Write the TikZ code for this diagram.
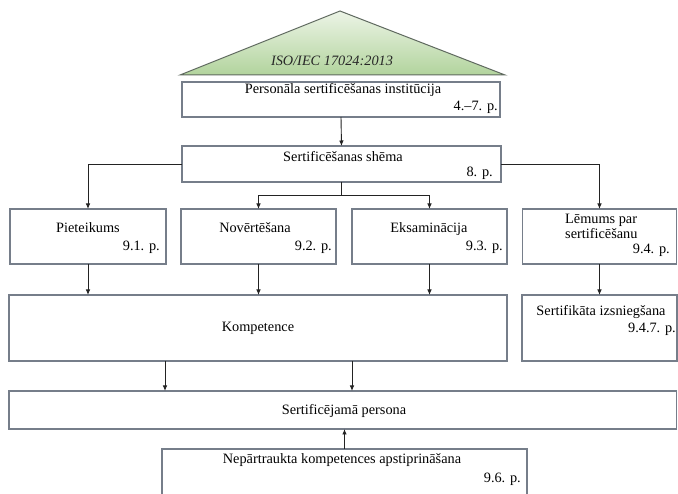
\documentclass[tikz,border=0pt]{standalone}
\usepackage{fontspec}
\setmainfont{Liberation Serif}
\usetikzlibrary{arrows.meta}
\definecolor{boxline}{RGB}{118,126,138}
\definecolor{roofline}{RGB}{95,105,95}
\definecolor{rooftop}{RGB}{236,244,230}
\definecolor{roofbase}{RGB}{178,212,157}
\definecolor{wire}{RGB}{35,35,35}
\tikzset{
  panel/.style={draw=boxline, line width=1.3pt, fill=white, rectangle,
    anchor=north west, inner sep=0pt, outer sep=0pt},
  caption/.style={font=\fontsize{14.3}{16}\selectfont, inner sep=0pt,
    text height=10pt, text depth=3pt, anchor=center},
  clause/.style={caption, anchor=east},
  leftcap/.style={caption, anchor=west},
  link/.style={draw=wire, line width=0.9pt, -{Latex[length=5.5pt,width=4.5pt]}},
  joint/.style={draw=wire, line width=0.9pt},
}
\begin{document}
\begin{tikzpicture}[x=1pt,y=-1pt]
\useasboundingbox (0,0) rectangle (678,494);
\clip (0,0) rectangle (678,494);
\fill[white] (0,0) rectangle (678,494);

% standard roof
\shade[top color=rooftop, bottom color=roofbase, draw=roofline, line width=1pt]
  (180,75) -- (340,11) -- (505,75) -- cycle;
\node[caption, text=black!85, font=\fontsize{14.3}{16}\selectfont\itshape] (std) at (332,62) {ISO/IEC 17024:2013};

% boxes
\node[panel, minimum width=318pt, minimum height=35pt] (inst) at (182,82) {};
\node[panel, minimum width=319pt, minimum height=36pt] (shema) at (182,146) {};
\node[panel, minimum width=156pt, minimum height=55pt] (piet) at (10,209) {};
\node[panel, minimum width=155pt, minimum height=55pt] (nov) at (181,209) {};
\node[panel, minimum width=155pt, minimum height=55pt] (eks) at (352,209) {};
\node[panel, minimum width=154pt, minimum height=55pt] (lem) at (522.5,209) {};
\node[panel, minimum width=498pt, minimum height=66pt] (komp) at (9,295) {};
\node[panel, minimum width=155pt, minimum height=66pt] (sert) at (522,295) {};
\node[panel, minimum width=667.5pt, minimum height=38pt] (pers) at (9,391) {};
\node[panel, minimum width=365pt, minimum height=60pt] (nep) at (162,449) {};

% texts
\node[caption] (instT) at (343,90) {Personāla sertificēšanas institūcija};
\node[clause] (instP) at (498,107) {4.–7. p.};
\node[caption] (shemaT) at (343,158) {Sertificēšanas shēma};
\node[clause] (shemaP) at (493,173) {8. p.};
\node[caption] (pietT) at (88,229) {Pieteikums};
\node[clause] (pietP) at (160,247) {9.1. p.};
\node[caption] (novT) at (255,229) {Novērtēšana};
\node[clause] (novP) at (332,247) {9.2. p.};
\node[caption] (eksT) at (429,229) {Eksaminācija};
\node[clause] (eksP) at (503,247) {9.3. p.};
\node[leftcap] (lemT1) at (565,220) {Lēmums par};
\node[leftcap] (lemT2) at (565,235) {sertificēšanu};
\node[clause] (lemP) at (670,250) {9.4. p.};
\node[caption] (kompT) at (258,328) {Kompetence};
\node[caption] (sertT) at (601,312) {Sertifikāta izsniegšana};
\node[clause] (sertP) at (676,329) {9.4.7. p.};
\node[caption] (persT) at (344,411) {Sertificējamā persona};
\node[caption] (nepT) at (342,460) {Nepārtraukta kompetences apstiprināšana};
\node[clause] (nepP) at (521,479) {9.6. p.};

% connectors
\draw[link] (inst.south) -- (shema.north);
\draw[link] (shema.west) -| (piet.north);
\draw[link] (shema.east) -| (lem.north);
\draw[joint] (shema.south) -- ++(0,13) coordinate (split);
\draw[link] (split) -| (nov.north);
\draw[link] (split) -| (eks.north);
\draw[link] (piet.south) -- (piet.south |- komp.north);
\draw[link] (nov.south) -- (nov.south |- komp.north);
\draw[link] (eks.south) -- (eks.south |- komp.north);
\draw[link] (lem.south) -- (lem.south |- sert.north);
\draw[link] ([xshift=-93pt]komp.south) -- ([xshift=-93pt]komp.south |- pers.north);
\draw[link] ([xshift=94pt]komp.south) -- ([xshift=94pt]komp.south |- pers.north);
\draw[link] (nep.north) -- (nep.north |- pers.south);
\end{tikzpicture}
\end{document}
